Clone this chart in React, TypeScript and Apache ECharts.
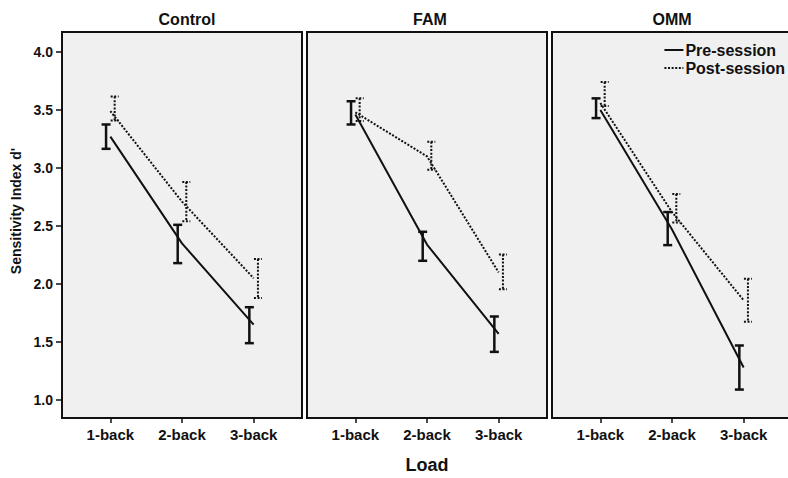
import React, { useEffect, useRef } from 'react';
import * as echarts from 'echarts';

// Working-memory load levels and the three training groups
const LOADS = ['1-back', '2-back', '3-back'];
const GROUPS = ['Control', 'FAM', 'OMM'];
const Y_TICKS = [1.0, 1.5, 2.0, 2.5, 3.0, 3.5, 4.0];
const SESSIONS = ['Pre-session', 'Post-session'];

// Mean sensitivity index d' with lower / upper bounds of the error bars
const controlPreMean = [3.27, 2.35, 1.65];
const controlPreLow = [3.165, 2.18, 1.49];
const controlPreHigh = [3.375, 2.51, 1.8];
const controlPostMean = [3.49, 2.71, 2.05];
const controlPostLow = [3.41, 2.54, 1.88];
const controlPostHigh = [3.615, 2.88, 2.215];

const famPreMean = [3.46, 2.34, 1.57];
const famPreLow = [3.375, 2.2, 1.415];
const famPreHigh = [3.575, 2.45, 1.72];
const famPostMean = [3.48, 3.1, 2.1];
const famPostLow = [3.405, 2.985, 1.955];
const famPostHigh = [3.6, 3.225, 2.255];

const ommPreMean = [3.5, 2.47, 1.28];
const ommPreLow = [3.43, 2.335, 1.09];
const ommPreHigh = [3.6, 2.62, 1.47];
const ommPostMean = [3.56, 2.62, 1.86];
const ommPostLow = [3.535, 2.53, 1.675];
const ommPostHigh = [3.74, 2.775, 2.045];

const PANEL_DATA = [
  { pre: [controlPreMean, controlPreLow, controlPreHigh], post: [controlPostMean, controlPostLow, controlPostHigh] },
  { pre: [famPreMean, famPreLow, famPreHigh], post: [famPostMean, famPostLow, famPostHigh] },
  { pre: [ommPreMean, ommPreLow, ommPreHigh], post: [ommPostMean, ommPostLow, ommPostHigh] },
];

const FONT = '"Liberation Sans", Arial, Helvetica, sans-serif';
const INK = '#111111';
const PANEL_LEFT = [62, 307, 552];
const PANEL_WIDTH = 240;
const PANEL_TOP = 32;
const PANEL_HEIGHT = 386;
const TITLE_X = [187, 430, 672];
const BAR_SHIFT = 0.06;
const DOTS = [2, 1.6];

function errorBars(name: string, grid: number, lows: number[], highs: number[], side: number, dotted: boolean) {
  return {
    type: 'custom',
    name,
    xAxisIndex: grid,
    yAxisIndex: grid,
    silent: true,
    z: 3,
    encode: { x: 0, y: [1, 2] },
    data: lows.map((lo, i) => [i + 1 + side * BAR_SHIFT, lo, highs[i]]),
    renderItem: (_params: any, api: any) => {
      const x = api.value(0);
      const top = api.coord([x, api.value(2)]);
      const bot = api.coord([x, api.value(1)]);
      const hw = dotted ? 4 : 4.5;
      const style: any = {
        stroke: INK,
        lineWidth: dotted ? 2 : 2.5,
        lineDash: dotted ? DOTS : null,
        fill: null,
      };
      return {
        type: 'group',
        children: [
          { type: 'line', shape: { x1: top[0], y1: top[1], x2: bot[0], y2: bot[1] }, style },
          { type: 'line', shape: { x1: top[0] - hw, y1: top[1], x2: top[0] + hw, y2: top[1] }, style },
          { type: 'line', shape: { x1: bot[0] - hw, y1: bot[1], x2: bot[0] + hw, y2: bot[1] }, style },
        ],
      };
    },
  };
}

function meanLine(name: string, grid: number, means: number[], dotted: boolean) {
  return {
    type: 'line',
    name,
    xAxisIndex: grid,
    yAxisIndex: grid,
    silent: true,
    z: 4,
    symbol: 'none',
    data: means.map((v, i) => [i + 1, v]),
    itemStyle: { color: INK },
    lineStyle: { color: INK, width: 2, type: dotted ? DOTS : 'solid' },
  };
}

function buildOption() {
  const grids = GROUPS.map((_, g) => ({
    left: PANEL_LEFT[g],
    top: PANEL_TOP,
    width: PANEL_WIDTH,
    height: PANEL_HEIGHT,
    containLabel: false,
    outerBoundsMode: 'none',
    show: true,
    backgroundColor: '#f0f0f0',
    borderColor: INK,
    borderWidth: 2,
  }));

  const xAxes = GROUPS.map((_, g) => ({
    type: 'value',
    gridIndex: g,
    min: 0.325,
    max: 3.675,
    splitLine: { show: false },
    axisLine: { show: true, lineStyle: { color: INK, width: 2 } },
    axisTick: { show: true, customValues: [1, 2, 3], length: 5, lineStyle: { color: INK, width: 1.5 } },
    axisLabel: {
      customValues: [1, 2, 3],
      formatter: (v: number) => LOADS[Math.round(v) - 1] ?? '',
      fontFamily: FONT,
      fontWeight: 'bold',
      fontSize: 15,
      color: INK,
      margin: 9,
    },
    name: g === 1 ? 'Load' : '',
    nameLocation: 'middle',
    nameGap: 38,
    nameTextStyle: { fontFamily: FONT, fontWeight: 'bold', fontSize: 18, color: INK },
  }));

  const yAxes = GROUPS.map((_, g) => ({
    type: 'value',
    gridIndex: g,
    min: 0.845,
    max: 4.172,
    splitLine: { show: false },
    axisLine: { show: true, lineStyle: { color: INK, width: 2 } },
    axisTick: { show: g === 0, customValues: Y_TICKS, length: 6, lineStyle: { color: INK, width: 1.5 } },
    axisLabel: {
      show: g === 0,
      customValues: Y_TICKS,
      formatter: (v: number) => v.toFixed(1),
      fontFamily: FONT,
      fontWeight: 'bold',
      fontSize: 14,
      color: INK,
      margin: 9,
    },
  }));

  const series: any[] = [];
  PANEL_DATA.forEach((p, g) => {
    series.push(meanLine(SESSIONS[0], g, p.pre[0], false));
    series.push(meanLine(SESSIONS[1], g, p.post[0], true));
    series.push(errorBars('Pre-session bars', g, p.pre[1], p.pre[2], -1, false));
    series.push(errorBars('Post-session bars', g, p.post[1], p.post[2], 1, true));
  });

  return {
    animation: false,
    backgroundColor: '#ffffff',
    title: GROUPS.map((name, g) => ({
      text: name,
      left: TITLE_X[g],
      top: 11,
      textAlign: 'center',
      padding: 0,
      textStyle: { fontFamily: FONT, fontWeight: 'bold', fontSize: 16, color: INK },
    })),
    legend: {
      data: SESSIONS,
      orient: 'vertical',
      right: 3,
      top: 42,
      itemWidth: 19,
      itemHeight: 12,
      itemGap: 2,
      padding: 0,
      selectedMode: false,
      itemStyle: { opacity: 0, borderWidth: 0 },
      textStyle: { fontFamily: FONT, fontWeight: 'bold', fontSize: 16, color: INK, padding: [0, 0, 0, -3] },
    },
    graphic: [
      {
        type: 'text',
        x: 16,
        y: 211,
        rotation: Math.PI / 2,
        style: {
          text: "Sensitivity Index d'",
          font: `bold 14px ${FONT}`,
          fill: INK,
          align: 'center',
          verticalAlign: 'middle',
        },
      },
    ],
    grid: grids,
    xAxis: xAxes,
    yAxis: yAxes,
    series,
  };
}

export default function App() {
  const ref = useRef<HTMLDivElement>(null);
  useEffect(() => {
    if (!ref.current) return;
    const chart = echarts.init(ref.current, null, { renderer: 'svg' });
    chart.setOption(buildOption() as any);
    return () => chart.dispose();
  }, []);
  return (
    <div
      ref={ref}
      style={{ position: 'fixed', left: 0, top: 0, width: 788, height: 478, background: '#ffffff' }}
    />
  );
}
